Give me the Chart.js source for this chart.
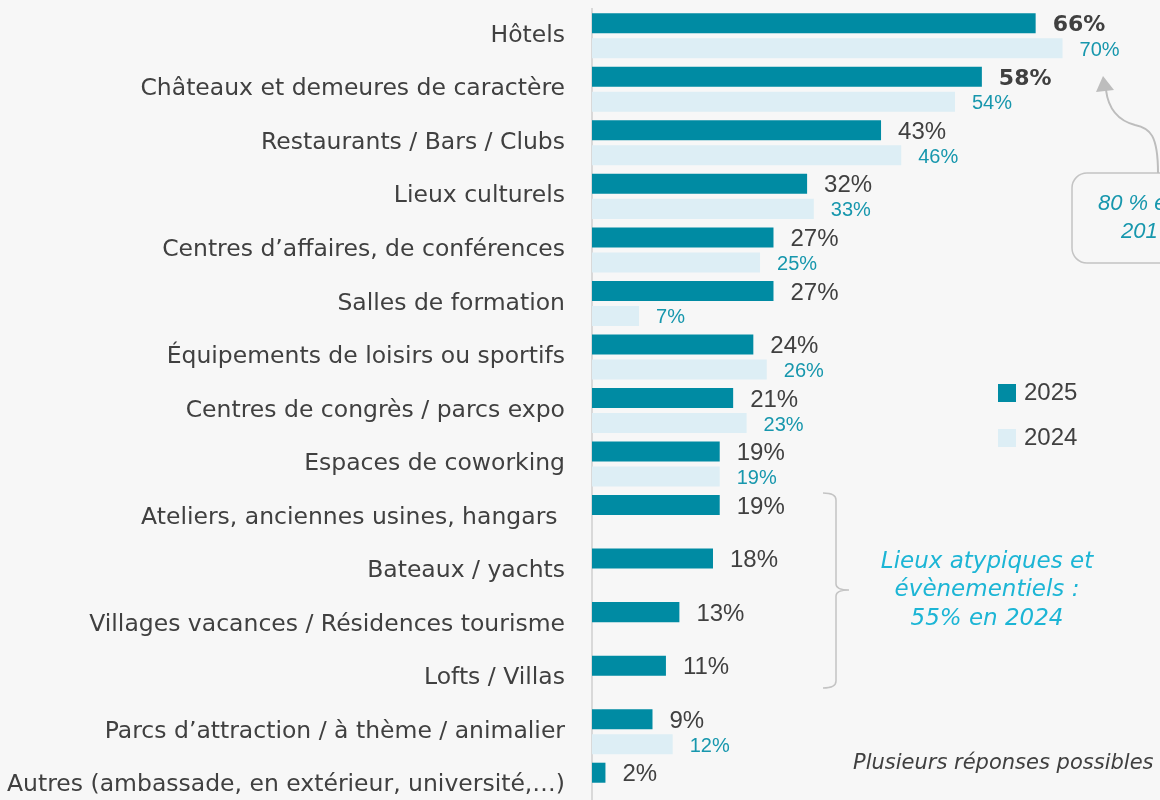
<!DOCTYPE html>
<html><head><meta charset="utf-8">
<script src="https://cdn.jsdelivr.net/npm/chart.js@4.4.1/dist/chart.umd.min.js"></script>
<style>
html,body{margin:0;padding:0;background:#f7f7f7;overflow:hidden;width:1160px;height:800px;}
#wrap{position:relative;width:1160px;height:800px;overflow:hidden;}
canvas{display:block;}
</style></head><body>
<div id="wrap"><canvas id="c" width="1160" height="812"></canvas></div>
<script>
const categories = [
  "Hôtels",
  "Châteaux et demeures de caractère",
  "Restaurants / Bars / Clubs",
  "Lieux culturels",
  "Centres d’affaires, de conférences",
  "Salles de formation",
  "Équipements de loisirs ou sportifs",
  "Centres de congrès / parcs expo",
  "Espaces de coworking",
  "Ateliers, anciennes usines, hangars ",
  "Bateaux / yachts",
  "Villages vacances / Résidences tourisme",
  "Lofts / Villas",
  "Parcs d’attraction / à thème / animalier",
  "Autres (ambassade, en extérieur, université,…)"
];
const values2025 = [66, 58, 43, 32, 27, 27, 24, 21, 19, 19, 18, 13, 11, 9, 2];
const values2024 = [70, 54, 46, 33, 25, 7, 26, 23, 19, null, null, null, null, 12, null];
const seriesNames = ["2025", "2024"];
const boldLabels2025 = [0, 1];
const bracketNote = ["Lieux atypiques et", "évènementiels :", "55% en 2024"];
const calloutNote = ["80 % en", "2017"];
const footNote = "Plusieurs réponses possibles";

const FONT = '"DejaVu Sans", sans-serif';
const FONT2 = '"Liberation Sans", Arial, sans-serif';
const C2025 = '#008ba3', C2024 = '#ddeef5', TXT = '#404040', TEAL = '#1797ad', CYAN = '#1cb5d5', GRAY = '#c4c4c4';

const labelPlugin = {
  id: 'valueLabels',
  afterDatasetsDraw(chart) {
    const ctx = chart.ctx;
    ctx.save();
    ctx.textBaseline = 'middle';
    ctx.textAlign = 'left';
    chart.data.datasets.forEach((ds, di) => {
      const meta = chart.getDatasetMeta(di);
      meta.data.forEach((bar, i) => {
        const v = ds.data[i];
        if (v === null || v === undefined) return;
        if (di === 0) {
          ctx.font = boldLabels2025.includes(i) ? 'bold 22px ' + FONT : '24px ' + FONT2;
          ctx.fillStyle = TXT;
          ctx.fillText(v + '%', bar.x + 17, bar.y + 2);
        } else {
          ctx.font = '20px ' + FONT2;
          ctx.fillStyle = TEAL;
          ctx.fillText(v + '%', bar.x + 17, bar.y + 2);
        }
      });
    });
    ctx.restore();
  }
};

const notesPlugin = {
  id: 'notes',
  afterDraw(chart) {
    const ctx = chart.ctx;
    ctx.save();
    // legend
    ctx.textBaseline = 'middle';
    ctx.textAlign = 'left';
    ctx.font = '24px ' + FONT2;
    ctx.fillStyle = C2025; ctx.fillRect(998, 384, 18, 18);
    ctx.fillStyle = TXT; ctx.fillText(seriesNames[0], 1024, 393);
    ctx.fillStyle = C2024; ctx.fillRect(998, 429, 18, 18);
    ctx.fillStyle = TXT; ctx.fillText(seriesNames[1], 1024, 438);

    // bracket
    ctx.strokeStyle = GRAY; ctx.lineWidth = 1.5;
    ctx.beginPath();
    ctx.moveTo(823, 493);
    ctx.quadraticCurveTo(836, 493, 836, 500);
    ctx.lineTo(836, 584);
    ctx.quadraticCurveTo(836, 590, 849, 590);
    ctx.quadraticCurveTo(836, 590, 836, 596);
    ctx.lineTo(836, 681);
    ctx.quadraticCurveTo(836, 688, 823, 688);
    ctx.stroke();

    ctx.font = 'oblique 23px ' + FONT;
    ctx.fillStyle = CYAN;
    ctx.textAlign = 'center';
    bracketNote.forEach((t, k) => ctx.fillText(t, 987, 562 + k * 28.5));

    // footnote
    ctx.font = 'oblique 21px ' + FONT;
    ctx.fillStyle = TXT;
    ctx.textAlign = 'left';
    ctx.fillText(footNote, 853, 764);

    // callout box
    ctx.strokeStyle = GRAY; ctx.lineWidth = 1.5;
    const bx = 1072, by = 173, bw = 140, bh = 90, r = 15;
    ctx.beginPath();
    ctx.moveTo(bx + r, by);
    ctx.lineTo(bx + bw - r, by);
    ctx.arcTo(bx + bw, by, bx + bw, by + r, r);
    ctx.lineTo(bx + bw, by + bh - r);
    ctx.arcTo(bx + bw, by + bh, bx + bw - r, by + bh, r);
    ctx.lineTo(bx + r, by + bh);
    ctx.arcTo(bx, by + bh, bx, by + bh - r, r);
    ctx.lineTo(bx, by + r);
    ctx.arcTo(bx, by, bx + r, by, r);
    ctx.stroke();
    ctx.font = 'italic 22px ' + FONT2;
    ctx.fillStyle = TEAL;
    ctx.fillText(calloutNote[0], 1098, 204);
    ctx.fillText(calloutNote[1], 1121, 232);

    // curved arrow
    ctx.strokeStyle = '#bdbdbd'; ctx.lineWidth = 2;
    ctx.beginPath();
    ctx.moveTo(1158, 173);
    ctx.bezierCurveTo(1158, 135, 1150, 128, 1135, 125);
    ctx.bezierCurveTo(1116, 120, 1108, 106, 1106, 90);
    ctx.stroke();
    ctx.fillStyle = '#bdbdbd';
    ctx.beginPath();
    ctx.moveTo(1103, 76);
    ctx.lineTo(1096, 92);
    ctx.lineTo(1114, 90);
    ctx.closePath();
    ctx.fill();
    ctx.restore();
  }
};

new Chart(document.getElementById('c'), {
  type: 'bar',
  data: {
    labels: categories,
    datasets: [
      { label: seriesNames[0], data: values2025, backgroundColor: C2025, barPercentage: 0.8, categoryPercentage: 0.935 },
      { label: seriesNames[1], data: values2024, backgroundColor: C2024, barPercentage: 0.8, categoryPercentage: 0.935 }
    ]
  },
  options: {
    indexAxis: 'y',
    responsive: false,
    animation: false,
    devicePixelRatio: 1,
    layout: { padding: { top: 9, right: 0, bottom: 0, left: 0 } },
    plugins: { legend: { display: false }, tooltip: { enabled: false } },
    scales: {
      x: { display: false, min: 0, max: 84.5 },
      y: {
        grid: { display: false, drawTicks: false },
        border: { display: true, color: '#d9d9d9', width: 2 },
        ticks: { color: TXT, font: { family: FONT, size: 23.5 }, padding: 27, autoSkip: false },
        afterFit(scale) { scale.width = 592; scale.paddingTop = 0; scale.paddingBottom = 0; }
      }
    }
  },
  plugins: [labelPlugin, notesPlugin]
});
</script>
</body></html>
